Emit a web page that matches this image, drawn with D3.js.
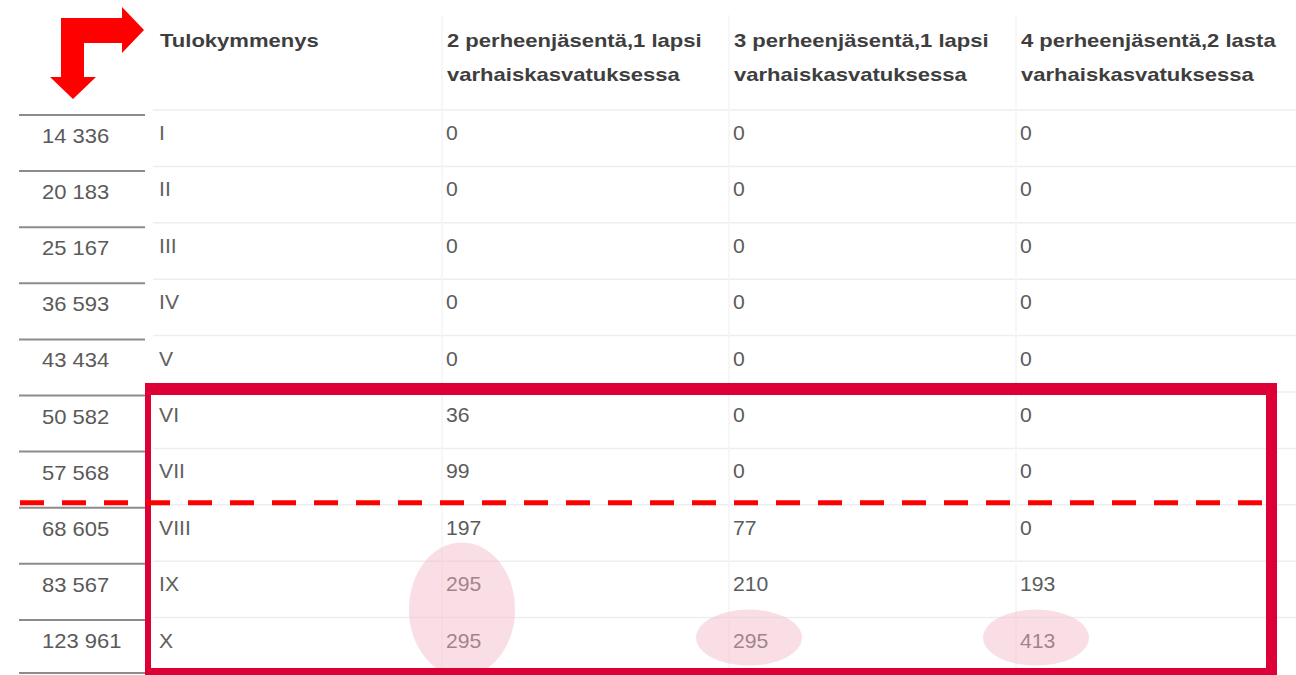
<!DOCTYPE html>
<html>
<head>
<meta charset="utf-8">
<script src="https://cdn.jsdelivr.net/npm/d3@7"></script>
<style>
    html, body { margin: 0; padding: 0; background: #fff; }
    svg { display: block; font-family: "Liberation Sans", Arial, sans-serif; }
</style>
</head>
<body>
<svg id="chart" width="1296" height="675"></svg>
<script>
// table content
var incomes = ["14 336", "20 183", "25 167", "36 593", "43 434", "50 582", "57 568", "68 605", "83 567", "123 961"];
var deciles = ["I", "II", "III", "IV", "V", "VI", "VII", "VIII", "IX", "X"];
var family2 = [0, 0, 0, 0, 0, 36, 99, 197, 295, 295];
var family3 = [0, 0, 0, 0, 0, 0, 0, 77, 210, 295];
var family4 = [0, 0, 0, 0, 0, 0, 0, 0, 193, 413];
var columns = ["dec", "f2", "f3", "f4"];
var headers = [
    ["Tulokymmenys"],
    ["2 perheenjäsentä,1 lapsi", "varhaiskasvatuksessa"],
    ["3 perheenjäsentä,1 lapsi", "varhaiskasvatuksessa"],
    ["4 perheenjäsentä,2 lasta", "varhaiskasvatuksessa"]
];
// highlighted cells: column, first row, last row
var highlights = [["f2", "IX", "X"], ["f3", "X", "X"], ["f4", "X", "X"]];

var svg = d3.select("#chart");
var red = "#ff0000", crimson = "#dc0037";

var xCol = d3.scaleBand().domain(columns).range([155, 155 + 4 * 287]);
var yRow = d3.scaleBand().domain(deciles).range([110, 110 + 10 * 56.4]);
var yLeft = d3.scaleBand().domain(deciles).range([115, 115 + 10 * 56.1]);

var values = { f2: family2, f3: family3, f4: family4 };

// faint grid of the main table
var grid = svg.append("g");
grid.selectAll(".hline")
    .data(deciles)
    .enter().append("line")
    .attr("x1", 153).attr("x2", 1296)
    .attr("y1", function (d) { return yRow(d); })
    .attr("y2", function (d) { return yRow(d); })
    .attr("stroke", "#eeeeee").attr("stroke-width", 1.5);
grid.selectAll(".vline")
    .data(columns.slice(1))
    .enter().append("line")
    .attr("x1", function (d) { return xCol(d); })
    .attr("x2", function (d) { return xCol(d); })
    .attr("y1", 15).attr("y2", 675)
    .attr("stroke", "#f4f4f4").attr("stroke-width", 1.5);

// headers
var head = svg.append("g");
headers.forEach(function (lines, i) {
    lines.forEach(function (t, j) {
        head.append("text")
            .attr("transform", "translate(" + (xCol(columns[i]) + 5) + "," + (47 + j * 34) + ") scale(1.16,1)")
            .attr("font-size", 19)
            .attr("font-weight", "bold")
            .attr("fill", "#3e3e3e")
            .text(t);
    });
});

// body cells
var body = svg.append("g");
body.selectAll(".dec")
    .data(deciles)
    .enter().append("text")
    .attr("transform", function (d) {
        return "translate(" + (xCol("dec") + 4) + "," + (yRow(d) + 30) + ") scale(1.06,1)";
    })
    .attr("font-size", 20)
    .attr("fill", "#606060")
    .text(function (d) { return d; });

columns.slice(1).forEach(function (c) {
    body.selectAll(".c" + c)
        .data(values[c])
        .enter().append("text")
        .attr("transform", function (d, i) {
            return "translate(" + (xCol(c) + 4) + "," + (yRow(deciles[i]) + 30) + ") scale(1.06,1)";
        })
        .attr("font-size", 20)
        .attr("fill", "#5c5c5c")
        .text(function (d) { return d; });
});

// left income column
var left = svg.append("g");
left.selectAll("line")
    .data(deciles)
    .enter().append("line")
    .attr("x1", 19).attr("x2", 145)
    .attr("y1", function (d) { return yLeft(d); })
    .attr("y2", function (d) { return yLeft(d); })
    .attr("stroke", "#8c8c8c").attr("stroke-width", 2);
left.append("line")
    .attr("x1", 19).attr("x2", 145)
    .attr("y1", 673).attr("y2", 673)
    .attr("stroke", "#8c8c8c").attr("stroke-width", 2);
left.selectAll("text")
    .data(incomes)
    .enter().append("text")
    .attr("transform", function (d, i) {
        return "translate(42," + (yLeft(deciles[i]) + 28) + ") scale(1.1,1)";
    })
    .attr("font-size", 20)
    .attr("fill", "#5a5a5a")
    .text(function (d) { return d; });

// pink highlight ellipses
svg.append("g").selectAll("ellipse")
    .data(highlights)
    .enter().append("ellipse")
    .attr("cx", function (d) { return xCol(d[0]) + 20; })
    .attr("cy", function (d) { return (yRow(d[1]) + yRow(d[2])) / 2 + 20; })
    .attr("rx", 53)
    .attr("ry", function (d) { return d[1] === d[2] ? 28 : 67; })
    .attr("fill", "#f4b6c6")
    .attr("opacity", 0.45);

// crimson frame round rows VI..X
var bx0 = xCol("dec") - 10, by0 = yRow("VI") - 9, bx1 = 1277, by1 = 675;
svg.append("path")
    .attr("fill-rule", "evenodd")
    .attr("fill", crimson)
    .attr("d", "M" + bx0 + "," + by0 + "H" + bx1 + "V" + by1 + "H" + bx0 + "Z" +
        "M" + (bx0 + 6) + "," + (by0 + 12) + "H" + (bx1 - 11) + "V" + (by1 - 7) + "H" + (bx0 + 6) + "Z");

// dashed split between VII and VIII
svg.append("line")
    .attr("x1", 20).attr("x2", 1262)
    .attr("y1", yRow("VIII") - 2).attr("y2", yRow("VIII") - 2)
    .attr("stroke", red).attr("stroke-width", 5)
    .attr("stroke-dasharray", "24 18");

// bent arrow, top left
svg.append("polygon")
    .attr("fill", red)
    .attr("points", [[61, 18], [122, 18], [122, 7], [144, 30], [122, 53], [122, 43], [84, 43],
        [84, 77], [96, 77], [73, 99], [50, 77], [61, 77]].join(" "));
</script>
</body>
</html>
